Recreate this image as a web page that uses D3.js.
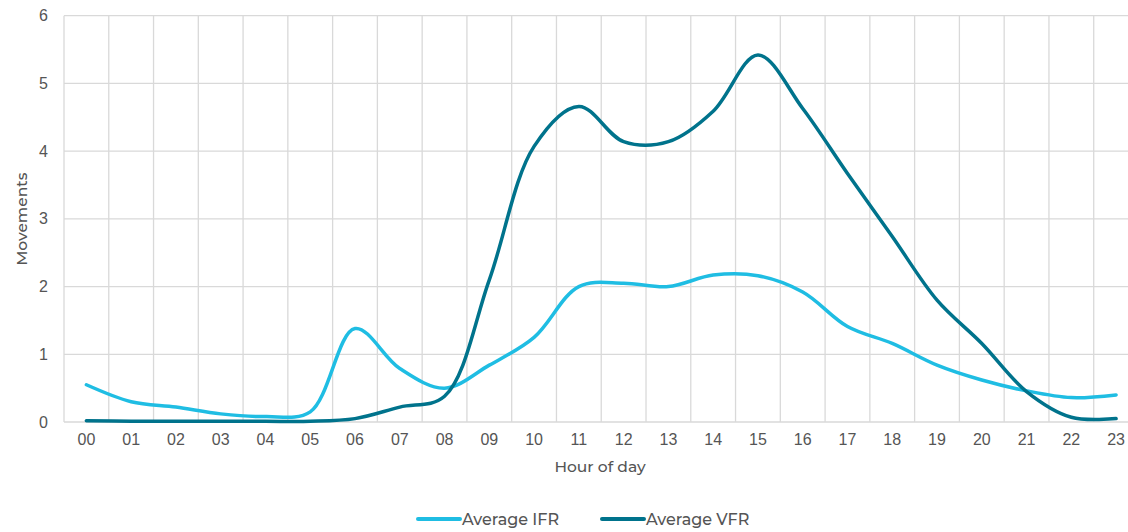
<!DOCTYPE html>
<html><head><meta charset="utf-8">
<script src="https://cdn.jsdelivr.net/npm/d3@7"></script>
<style>
html,body{margin:0;padding:0;background:#fff;}
svg{display:block;font-family:Montserrat,Inter,"Open Sans",sans-serif;font-weight:500;}
</style></head>
<body><svg id="c" width="1128" height="532"></svg>
<script>
const hours = ["00","01","02","03","04","05","06","07","08","09","10","11","12","13","14","15","16","17","18","19","20","21","22","23"];
const ifr = [0.55,0.30,0.22,0.12,0.08,0.15,1.38,0.79,0.50,0.84,1.25,2.00,2.05,2.00,2.17,2.16,1.92,1.41,1.16,0.84,0.62,0.46,0.36,0.40];
const vfr = [0.02,0.01,0.01,0.01,0.01,0.01,0.05,0.22,0.38,2.10,4.07,4.66,4.14,4.14,4.59,5.42,4.63,3.67,2.74,1.80,1.16,0.45,0.07,0.05];
const yTicks = [0,1,2,3,4,5,6];
const seriesNames = ["Average IFR","Average VFR"];
const colors = ["#1fbde3","#00738c"];

const svg = d3.select("#c");
const plotLeft = 64, bandW = 44.77, plotTop = 15.7, plotBottom = 422;
const x = d3.scaleBand().domain(hours).range([plotLeft, plotLeft + bandW*hours.length]).padding(0);
const y = d3.scaleLinear().domain([0,6]).range([plotBottom, plotTop]);
const textCol = "#555555", gridCol = "#d9d9d9";

svg.append("g").selectAll("line").data(yTicks).join("line")
  .attr("x1", plotLeft).attr("x2", x.range()[1])
  .attr("y1", d => y(d)).attr("y2", d => y(d))
  .attr("stroke", gridCol).attr("stroke-width", 1.3);
svg.append("g").selectAll("line").data(hours).join("line")
  .attr("x1", d => x(d)).attr("x2", d => x(d))
  .attr("y1", plotTop).attr("y2", plotBottom)
  .attr("stroke", gridCol).attr("stroke-width", 1.3);

const yAxis = d3.axisLeft(y).tickValues(yTicks).tickSize(0).tickPadding(16).tickFormat(d3.format("d"));
const gy = svg.append("g").attr("transform", `translate(${plotLeft},0)`).call(yAxis);
gy.select(".domain").remove();
gy.selectAll("text").attr("fill", textCol).style("font-size","16px").style("font-family","inherit");

const xAxis = d3.axisBottom(x).tickSize(0).tickPadding(12);
const gx = svg.append("g").attr("transform", `translate(0,${plotBottom})`).call(xAxis);
gx.select(".domain").remove();
gx.selectAll("text").attr("fill", textCol).style("font-size","16px").style("font-family","inherit");

svg.append("text").attr("x", 600).attr("y", 472).attr("text-anchor","middle")
  .attr("fill", textCol).style("font-size","15.5px").text("Hour of day");
svg.append("text").attr("transform","translate(27,219) rotate(-90)").attr("text-anchor","middle")
  .attr("fill", textCol).style("font-size","15.5px").text("Movements");

const line = d3.line().x((d,i) => x(hours[i]) + x.bandwidth()/2).y(d => y(d)).curve(d3.curveCatmullRom.alpha(0.5));
[ifr, vfr].forEach((s, k) => {
  svg.append("path").datum(s).attr("d", line).attr("fill","none")
    .attr("stroke", colors[k]).attr("stroke-width", 3.5).attr("stroke-linecap","round").attr("stroke-linejoin","round");
});

const legX = [418, 602];
seriesNames.forEach((n, k) => {
  const g = svg.append("g");
  g.append("line").attr("x1", legX[k]).attr("x2", legX[k]+42).attr("y1", 519).attr("y2", 519)
    .attr("stroke", colors[k]).attr("stroke-width", 4).attr("stroke-linecap","round");
  g.append("text").attr("x", legX[k]+44).attr("y", 525).attr("fill", textCol)
    .style("font-size","16px").text(n);
});
</script></body></html>
